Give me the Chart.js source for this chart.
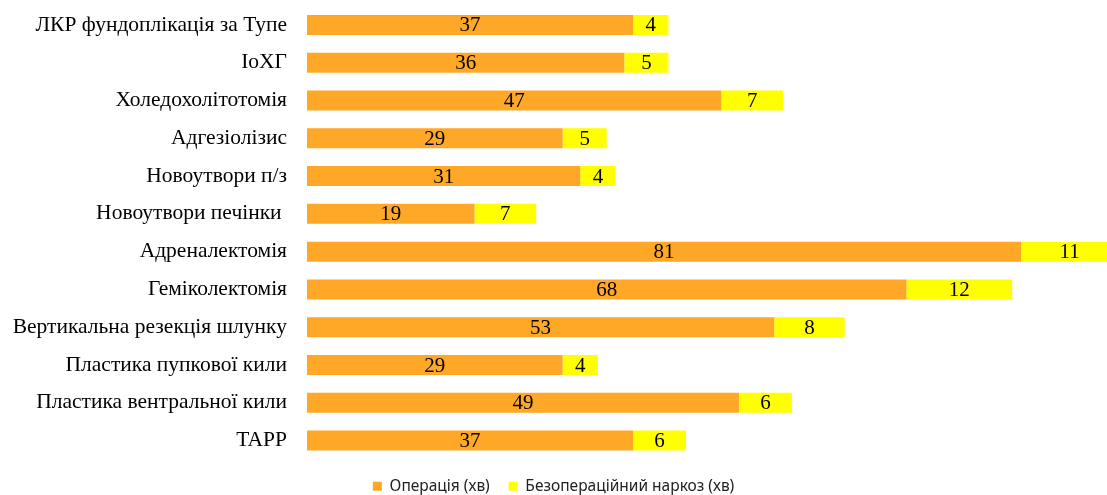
<!DOCTYPE html>
<html>
<head>
<meta charset="utf-8">
<script src="https://cdn.jsdelivr.net/npm/chart.js@4/dist/chart.umd.min.js"></script>
<style>
  html, body { margin: 0; padding: 0; background: #fff; overflow: hidden; }
  #wrap { width: 1107px; height: 495px; position: relative; }
</style>
</head>
<body>
<div id="wrap"><canvas id="myChart"></canvas></div>
<script>
const categories = [
  'ЛКР фундоплікація за Тупе',
  'IoХГ',
  'Холедохолітотомія',
  'Адгезіолізис',
  'Новоутвори п/з',
  'Новоутвори печінки ',
  'Адреналектомія',
  'Геміколектомія',
  'Вертикальна резекція шлунку',
  'Пластика пупкової кили',
  'Пластика вентральної кили',
  'TAPP'
]
const operationTime = [37, 36, 47, 29, 31, 19, 81, 68, 53, 29, 49, 37]
const anesthesiaTime = [4, 5, 7, 5, 4, 7, 11, 12, 8, 4, 6, 6]
const seriesNames = ['Операція (хв)', 'Безопераційний наркоз (хв)']

// draws the numbers in the middle of each bar segment
const barLabels = {
  id: 'barLabels',
  afterDatasetsDraw(chart) {
    const ctx = chart.ctx
    ctx.save()
    ctx.font = '21px "Liberation Serif", serif'
    ctx.fillStyle = '#000'
    ctx.textAlign = 'center'
    ctx.textBaseline = 'middle'
    chart.data.datasets.forEach((ds, i) => {
      chart.getDatasetMeta(i).data.forEach((bar, j) => {
        const p = bar.getProps(['x', 'y', 'base'], true)
        ctx.fillText(ds.data[j], (p.x + p.base) / 2, p.y + 1)
      })
    })
    ctx.restore()
  }
}

const ctx = document.getElementById('myChart').getContext('2d')
const myChart = new Chart(ctx, {
  type: 'bar',
  data: {
    labels: categories,
    datasets: [{
      label: seriesNames[0],
      data: operationTime,
      backgroundColor: '#FFA726',
      barPercentage: 0.53,
      categoryPercentage: 1,
      clip: false
    }, {
      label: seriesNames[1],
      data: anesthesiaTime,
      backgroundColor: '#FFFF00',
      barPercentage: 0.53,
      categoryPercentage: 1,
      clip: false
    }]
  },
  options: {
    indexAxis: 'y',
    responsive: true,
    maintainAspectRatio: false,
    animation: false,
    layout: {
      padding: { top: 6, right: 0, left: 0, bottom: -9 }
    },
    plugins: {
      legend: {
        position: 'bottom',
        labels: {
          color: '#222',
          boxWidth: 9,
          boxHeight: 9,
          padding: 19,
          font: { family: '"Noto Sans", sans-serif', size: 15.5 }
        }
      },
      tooltip: { enabled: false }
    },
    scales: {
      x: {
        stacked: true,
        display: false,
        min: 0,
        max: 90.75
      },
      y: {
        stacked: true,
        grid: { display: false },
        border: { display: false },
        afterFit(scale) {
          scale.width = 307
          scale.paddingTop = 0
          scale.paddingBottom = 0
        },
        ticks: {
          color: '#000',
          padding: 12,
          font: { family: '"Liberation Serif", serif', size: 21.5 }
        }
      }
    }
  },
  plugins: [barLabels]
})
</script>
</body>
</html>
